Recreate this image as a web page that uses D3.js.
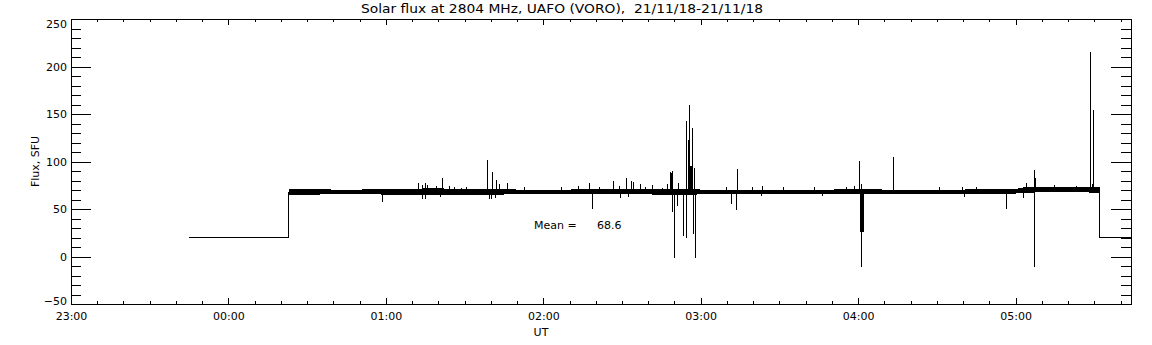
<!DOCTYPE html>
<html><head><meta charset="utf-8">
<script src="https://cdn.jsdelivr.net/npm/d3@7/dist/d3.min.js"></script>
<style>
body{margin:0;background:#fff}
svg{display:block}
text{font-family:"DejaVu Sans","Liberation Sans",sans-serif;fill:#000}
</style>
</head><body>
<svg id="c" width="1152" height="345"></svg>
<script>
// ---------- data ----------
const titleText = "Solar flux at 2804 MHz, UAFO (VORO),  21/11/18-21/11/18";
const xTitle = "UT";
const yTitle = "Flux, SFU";
const meanLabel = "Mean =";
const meanValue = 68.6;
const xDomain = ["23:00:00", "05:44:00"];
const yDomain = [-50, 250];
const xTickLabels = ["23:00", "00:00", "01:00", "02:00", "03:00", "04:00", "05:00"];
const yTickValues = [-50, 0, 50, 100, 150, 200, 250];

// receiver-off level (flat segments at start and end)
const lowLevel = 20;
const lowSpans = [["23:45:00", "00:23:00"], ["05:32:00", "05:44:00"]];

// envelope of the dense noisy band (time, low, high)
const bandTimes = ["00:23:00","00:30:00","00:40:00","00:50:00","01:00:00","01:10:00","01:20:00","01:30:00","01:40:00","01:50:00","02:00:00","02:10:00","02:20:00","02:30:00","02:40:00","02:50:00","03:00:00","03:10:00","03:20:00","03:30:00","03:40:00","03:50:00","04:00:00","04:10:00","04:20:00","04:30:00","04:40:00","04:50:00","05:00:00","05:03:00","05:10:00","05:20:00","05:32:00"];
const bandLow  = [65.2,65.2,65.3,65.5,65.2,64.6,64.4,65.2,65,65.5,65.7,65.7,65.5,65.3,65.3,65,65.3,65.7,65.9,65.9,65.7,65.7,65.7,65.7,65.9,65.8,65.9,66,66.2,67.2,67.5,67.5,67.3];
const bandHigh = [71,70.7,70.5,70.5,70.7,71.4,71.8,70.7,71,70.5,70.5,70.5,70.8,71,70.7,71.4,70.5,70.5,70.3,70.3,70.5,70.5,70.7,70.5,70.3,70.3,70.5,70.7,71,72.8,73.3,73,72.8];

// individual spikes (time, value)
const spikeTimes = ["00:58:36","01:12:18","01:14:00","01:14:00","01:15:06","01:15:06","01:15:54","01:19:18","01:21:00","01:21:24","01:24:06","01:26:18","01:28:48","01:30:42","01:38:36","01:39:36","01:40:18","01:40:30","01:41:48","01:42:06","01:43:12","01:46:12","01:53:00","02:06:54","02:13:18","02:17:36","02:18:36","02:21:30","02:26:36","02:28:54","02:29:36","02:31:48","02:32:18","02:33:36","02:34:12","02:37:06","02:39:00","02:41:48","02:45:18","02:47:30","02:48:24","02:48:48","02:49:00","02:49:18","02:49:24","02:50:12","02:51:18","02:51:42","02:53:36","02:54:24","02:54:42","02:55:18","02:55:54","02:56:12","02:56:24","02:56:42","02:57:24","02:57:48","02:58:12","03:09:48","03:11:48","03:13:36","03:14:12","03:19:54","03:23:06","03:23:30","03:31:24","03:43:24","03:46:24","03:55:30","03:58:42","04:00:42","04:01:00","04:01:15","04:01:20","04:01:26","04:01:40","04:01:55","04:13:18","04:13:36","04:31:00","04:39:54","04:40:36","04:45:00","04:56:24","05:03:12","05:04:06","05:07:24","05:07:24","05:07:36","05:14:54","05:23:06","05:28:42","05:29:12","05:29:48"];
const spikeValues = [57.4,77,60.5,75.6,77,61,75,73.7,63,82.6,73.7,73,72.5,73,101.6,60.9,60.5,89,62,81,76.3,77.7,72.8,73.5,74.6,77.7,50.3,73.5,79.5,74.2,61.2,83,63,79.5,78.4,76.6,73.5,75,72.5,76,89,88,88,90,47,-2,53.5,77,22,142.6,19,122.6,159.5,95,95,135,23.4,93.5,-1.2,73.5,55,49,92,73,63.7,74.2,73.5,73,64,73.5,74,100.5,26,26,76,-10.7,26,26,73,104.7,73,73.5,63,73,49.5,62,77,91,-10.7,82.6,75,74.5,215.3,76,154];

// ---------- helpers ----------
const parseT = s => {
  const [h, m, sec] = s.split(":").map(Number);
  const day = h >= 12 ? 20 : 21;
  return new Date(2018, 10, day, h, m, sec || 0);
};

const m = {left: 71, top: 19, right: 1131, bottom: 304};
const svg = d3.select("#c");

const x = d3.scaleTime().domain(xDomain.map(parseT)).range([m.left, m.right]);
const y = d3.scaleLinear().domain(yDomain).range([m.bottom, m.top]);

const FONT = '"DejaVu Sans","Liberation Sans",sans-serif';

// ---------- axes ----------
const majorX = xTickLabels.map(t => parseT(t + ":00"));
const minorX = d3.timeMinute.every(10).range(x.domain()[0], x.domain()[1]).filter(d => d.getMinutes() !== 0);
const minorY = d3.range(yDomain[0], yDomain[1] + 1, 10).filter(v => v % 50 !== 0);

function styleAxis(g) {
  g.attr("font-family", FONT).attr("font-size", 11);
  g.selectAll("path.domain").attr("stroke", "#000").attr("stroke-width", 1).attr("shape-rendering", "crispEdges");
  g.selectAll(".tick line").attr("stroke", "#000").attr("stroke-width", 1).attr("shape-rendering", "crispEdges");
  g.selectAll(".tick text").attr("fill", "#000");
}

// bottom
svg.append("g").attr("transform", `translate(0,${m.bottom})`)
  .call(d3.axisBottom(x).tickValues(majorX).tickFormat((d, i) => xTickLabels[i]).tickSizeInner(-6).tickSizeOuter(0).tickPadding(8))
  .call(styleAxis);
svg.append("g").attr("transform", `translate(0,${m.bottom})`)
  .call(d3.axisBottom(x).tickValues(minorX).tickFormat("").tickSizeInner(-3).tickSizeOuter(0))
  .call(styleAxis);
// top
svg.append("g").attr("transform", `translate(0,${m.top})`)
  .call(d3.axisTop(x).tickValues(majorX).tickFormat("").tickSizeInner(-6).tickSizeOuter(0))
  .call(styleAxis);
svg.append("g").attr("transform", `translate(0,${m.top})`)
  .call(d3.axisTop(x).tickValues(minorX).tickFormat("").tickSizeInner(-3).tickSizeOuter(0))
  .call(styleAxis);
// left
const gl = svg.append("g").attr("transform", `translate(${m.left},0)`)
  .call(d3.axisLeft(y).tickValues(yTickValues).tickFormat(d => d < 0 ? "\u2212" + Math.abs(d) : String(d)).tickSizeInner(-20).tickSizeOuter(0).tickPadding(4))
  .call(styleAxis);
gl.selectAll(".tick text").attr("dy", d => d === yDomain[1] ? "0.75em" : d === yDomain[0] ? "0em" : "0.35em");
svg.append("g").attr("transform", `translate(${m.left},0)`)
  .call(d3.axisLeft(y).tickValues(minorY).tickFormat("").tickSizeInner(-10).tickSizeOuter(0))
  .call(styleAxis);
// right
svg.append("g").attr("transform", `translate(${m.right},0)`)
  .call(d3.axisRight(y).tickValues(yTickValues).tickFormat("").tickSizeInner(-20).tickSizeOuter(0))
  .call(styleAxis);
svg.append("g").attr("transform", `translate(${m.right},0)`)
  .call(d3.axisRight(y).tickValues(minorY).tickFormat("").tickSizeInner(-10).tickSizeOuter(0))
  .call(styleAxis);

// ---------- data marks ----------
const band = bandTimes.map((t, i) => ({t: parseT(t), lo: bandLow[i], hi: bandHigh[i]}));
svg.append("path")
  .datum(band)
  .attr("d", d3.area().x(d => x(d.t)).y0(d => y(d.lo)).y1(d => y(d.hi)))
  .attr("fill", "#000")
  .attr("shape-rendering", "crispEdges");

// off-level segments with steps up to / down from the band
const lowLine = d3.line().x(d => x(d[0])).y(d => y(d[1]));
const firstBand = band[0], lastBand = band[band.length - 1];
const lowPaths = [
  [[parseT(lowSpans[0][0]), lowLevel], [parseT(lowSpans[0][1]), lowLevel], [firstBand.t, (firstBand.lo + firstBand.hi) / 2]],
  [[lastBand.t, (lastBand.lo + lastBand.hi) / 2], [parseT(lowSpans[1][0]), lowLevel], [parseT(lowSpans[1][1]), lowLevel]]
];
svg.selectAll("path.low").data(lowPaths).join("path")
  .attr("class", "low")
  .attr("d", lowLine)
  .attr("fill", "none").attr("stroke", "#000").attr("stroke-width", 1)
  .attr("shape-rendering", "crispEdges");

// spikes
const spikes = spikeTimes.map((t, i) => ({t: parseT(t), v: spikeValues[i]}));
svg.selectAll("line.spike").data(spikes).join("line")
  .attr("class", "spike")
  .attr("x1", d => x(d.t)).attr("x2", d => x(d.t))
  .attr("y1", y(meanValue)).attr("y2", d => y(d.v))
  .attr("stroke", "#000").attr("stroke-width", 1)
  .attr("shape-rendering", "crispEdges");

// ---------- texts ----------
svg.append("text").attr("x", 562).attr("y", 13).attr("text-anchor", "middle")
  .attr("font-size", 12).attr("textLength", 402).attr("lengthAdjust", "spacingAndGlyphs")
  .attr("xml:space", "preserve")
  .text(titleText);

svg.append("text").attr("x", 541).attr("y", 336).attr("text-anchor", "middle")
  .attr("font-size", 11).text(xTitle);

svg.append("text").attr("transform", `translate(39,${(m.top + m.bottom) / 2}) rotate(-90)`)
  .attr("text-anchor", "middle").attr("font-size", 11).text(yTitle);

svg.append("text").attr("x", 534).attr("y", 228.5).attr("font-size", 11).text(meanLabel);
svg.append("text").attr("x", 597).attr("y", 228.5).attr("font-size", 11).text(meanValue.toFixed(1));
</script>
</body></html>
